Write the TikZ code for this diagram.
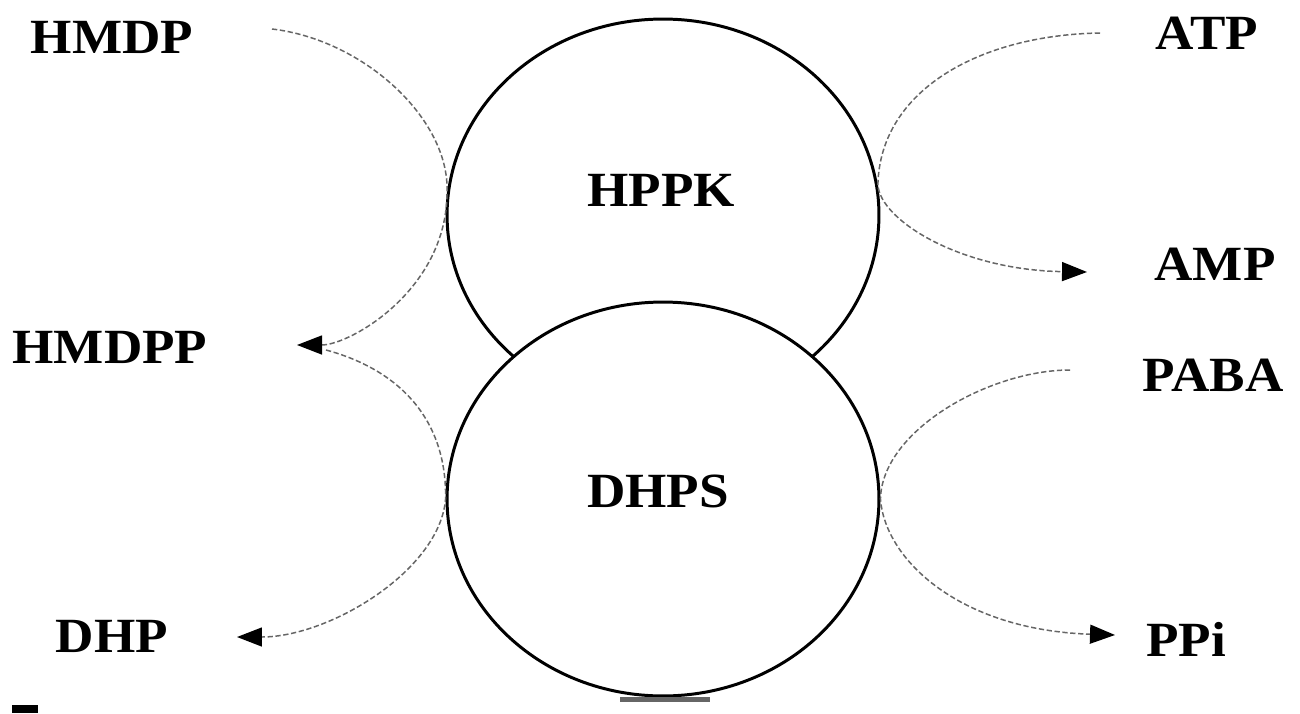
\documentclass[tikz,border=0pt]{standalone}
\usepackage{fontspec}
\newfontfamily\lblfont{Liberation Serif}[FakeStretch=1.08]
\usetikzlibrary{shapes.geometric,arrows.meta}
\tikzset{
  enzyme/.style={ellipse,draw=black,line width=1.7pt,fill=white,inner sep=0pt},
  lbl/.style={inner sep=0pt,font=\lblfont\fontsize{28}{30}\selectfont\bfseries},
  flow/.style={draw=black!60,line width=0.85pt,dash pattern=on 3pt off 1.5pt},
  tip/.style={-{Triangle[length=0.5cm,width=0.38cm,color=black]}}
}
\begin{document}
\begin{tikzpicture}[x=0.02cm,y=-0.02cm]
\useasboundingbox (0,0) rectangle (1300,713);
% enzymes
\node[enzyme,minimum width=8.64cm,minimum height=7.84cm] (hppk) at (663,215) {};
\node[enzyme,minimum width=8.64cm,minimum height=7.88cm] (dhps) at (663,499) {};
\node[lbl] (hppkt) at (661,190) {HPPK};
\node[lbl] (dhpst) at (658,491) {DHPS};
% substrates / products
\node[lbl] (hmdp) at (112,37) {HMDP};
\node[lbl] (hmdpp) at (110,347) {HMDPP};
\node[lbl] (dhp) at (112,636) {DHP};
\node[lbl] (atp) at (1207,33) {ATP};
\node[lbl] (amp) at (1215,264) {AMP};
\node[lbl] (paba) at (1213,375) {PABA};
\node[lbl] (ppi) at (1186,639) {PPi};
% connector ends
\coordinate (hmdpS) at (272,29);
\coordinate (hmdppT) at (297,345);
\coordinate (hmdppS) at (326,350);
\coordinate (dhpT) at (237,637);
\coordinate (atpS) at (1100,33);
\coordinate (ampT) at (1087,272);
\coordinate (pabaS) at (1070,370);
\coordinate (ppiT) at (1115,635);
% connectors
\draw[flow,tip] (hmdpS) .. controls (365,40) and (450,120) .. (hppk.174)
  .. controls (447,290) and (350,345) .. (hmdppT);
\draw[flow,tip] (hmdppS) .. controls (400,370) and (447,420) .. (dhps.west)
  .. controls (440,570) and (330,637) .. (dhpT);
\draw[flow,tip] (atpS) .. controls (980,35) and (880,90) .. (hppk.8)
  .. controls (880,220) and (960,270) .. (ampT);
\draw[flow,tip] (pabaS) .. controls (990,370) and (882,430) .. (dhps.east)
  .. controls (885,560) and (960,630) .. (ppiT);
% small marks
\fill[black!60] (620,697) rectangle (710,702);
\fill[black] (12,705) rectangle (38,713);
\end{tikzpicture}
\end{document}
